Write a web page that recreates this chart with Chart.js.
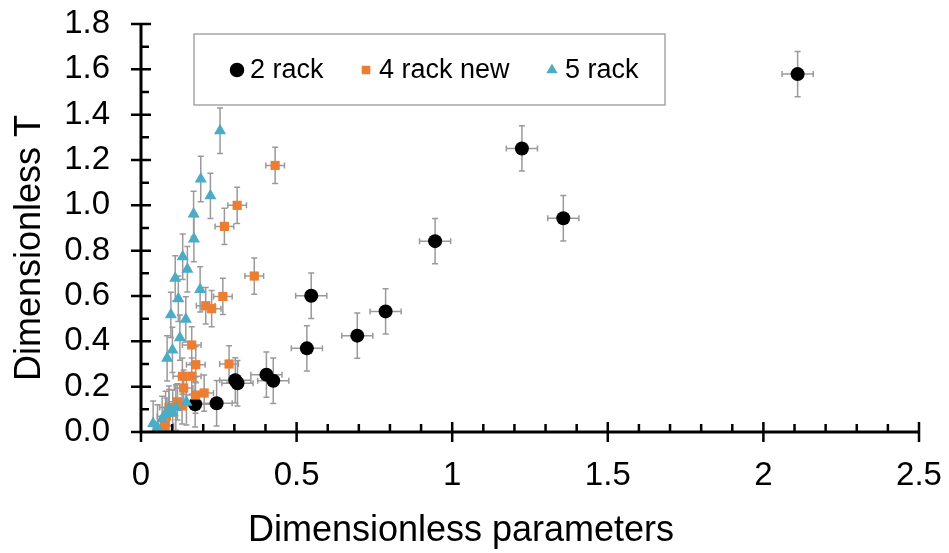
<!DOCTYPE html>
<html>
<head>
<meta charset="utf-8">
<script src="https://cdn.jsdelivr.net/npm/chart.js@4.4.1/dist/chart.umd.min.js"></script>
<style>
  html, body { margin: 0; padding: 0; background: #fff; }
</style>
</head>
<body>
<canvas id="chart" width="949" height="553"></canvas>
<script>
// series names
const seriesNames = ['2 rack', '4 rack new', '5 rack'];

// 2 rack (black circles)
const rack2X = [0.174, 0.243, 0.303, 0.310, 0.403, 0.425, 0.533, 0.547, 0.695, 0.786, 0.945, 1.224, 1.357, 2.110];
const rack2Y = [0.122, 0.127, 0.228, 0.215, 0.253, 0.226, 0.369, 0.601, 0.425, 0.532, 0.842, 1.251, 0.943, 1.579];

// 4 rack new (orange squares)
const rack4X = [0.431, 0.309, 0.268, 0.364, 0.263, 0.208, 0.227, 0.163, 0.283, 0.176, 0.133, 0.163, 0.137, 0.203, 0.175, 0.117, 0.132, 0.090, 0.082, 0.075];
const rack4Y = [1.176, 1.000, 0.907, 0.688, 0.598, 0.557, 0.544, 0.384, 0.300, 0.297, 0.246, 0.246, 0.194, 0.172, 0.163, 0.133, 0.115, 0.108, 0.070, 0.028];

// 5 rack (blue triangles)
const rack5X = [0.254, 0.192, 0.223, 0.169, 0.170, 0.134, 0.149, 0.110, 0.190, 0.120, 0.096, 0.144, 0.125, 0.101, 0.084, 0.146, 0.112, 0.090, 0.102, 0.079, 0.068, 0.039, 0.053];
const rack5Y = [1.329, 1.116, 1.042, 0.962, 0.851, 0.773, 0.718, 0.678, 0.629, 0.588, 0.517, 0.497, 0.416, 0.362, 0.325, 0.131, 0.108, 0.103, 0.085, 0.080, 0.058, 0.037, 0.020];

// error bar half-widths per series [x, y]
const rack2Err = [0.05, 0.10];
const rack4Err = [0.03, 0.08];
const rack5Err = [0, 0.10];

const seriesColors = ['#000000', '#ED7D31', '#4BACC6'];
const FONT = "'Liberation Sans', Arial, sans-serif";

function toPoints(xs, ys) {
  return xs.map((x, i) => ({ x: x, y: ys[i] }));
}

const errors = [rack2Err, rack4Err, rack5Err];

const errorBars = {
  id: 'errorBars',
  beforeDatasetsDraw(chart) {
    const { ctx, scales: { x, y } } = chart;
    ctx.save();
    ctx.strokeStyle = '#9a9a9a';
    ctx.lineWidth = 1.5;
    chart.data.datasets.forEach((ds, di) => {
      const [ex, ey] = errors[di];
      ds.data.forEach(p => {
        const px = x.getPixelForValue(p.x), py = y.getPixelForValue(p.y);
        ctx.beginPath();
        if (ey) {
          const t = y.getPixelForValue(p.y + ey), b = y.getPixelForValue(Math.max(0, p.y - ey));
          ctx.moveTo(px, t); ctx.lineTo(px, b);
          ctx.moveTo(px - 3, t); ctx.lineTo(px + 3, t);
          ctx.moveTo(px - 3, b); ctx.lineTo(px + 3, b);
        }
        if (ex) {
          const l = x.getPixelForValue(p.x - ex), r = x.getPixelForValue(p.x + ex);
          ctx.moveTo(l, py); ctx.lineTo(r, py);
          ctx.moveTo(l, py - 3); ctx.lineTo(l, py + 3);
          ctx.moveTo(r, py - 3); ctx.lineTo(r, py + 3);
        }
        ctx.stroke();
      });
    });
    ctx.restore();
  }
};

const axesAndTitles = {
  id: 'axesAndTitles',
  afterDraw(chart) {
    const { ctx, chartArea: a, scales: { x, y } } = chart;
    ctx.save();
    ctx.strokeStyle = '#000';
    ctx.lineWidth = 3;
    ctx.beginPath();
    ctx.moveTo(a.left, a.top); ctx.lineTo(a.left, a.bottom + 1.5);
    ctx.moveTo(a.left - 1.5, a.bottom); ctx.lineTo(a.right, a.bottom);
    ctx.stroke();

    ctx.lineWidth = 2.5;
    ctx.beginPath();
    // x ticks: major every 0.5, minor every 0.1
    for (let i = 1; i <= 25; i++) {
      const px = x.getPixelForValue(i / 10);
      if (i % 5 === 0) { ctx.moveTo(px, a.bottom - 10); ctx.lineTo(px, a.bottom + 10); }
      else { ctx.moveTo(px, a.bottom - 8); ctx.lineTo(px, a.bottom); }
    }
    // y ticks: major every 0.2, minor every 0.1
    for (let i = 1; i <= 18; i++) {
      const py = y.getPixelForValue(i / 10);
      if (i % 2 === 0) { ctx.moveTo(a.left - 10, py); ctx.lineTo(a.left + 10, py); }
      else { ctx.moveTo(a.left, py); ctx.lineTo(a.left + 8, py); }
    }
    ctx.moveTo(a.left - 10, a.bottom); ctx.lineTo(a.left, a.bottom);
    ctx.moveTo(a.left, a.bottom); ctx.lineTo(a.left, a.bottom + 10);
    ctx.stroke();

    // axis titles
    ctx.fillStyle = '#000';
    ctx.font = '36px ' + FONT;
    ctx.textAlign = 'center';
    ctx.textBaseline = 'alphabetic';
    ctx.fillText('Dimensionless parameters', 461, 541);
    ctx.translate(40, 248);
    ctx.rotate(-Math.PI / 2);
    ctx.fillText('Dimensionless T', 0, 0);
    ctx.restore();

    // legend box
    ctx.save();
    ctx.fillStyle = '#fff';
    ctx.strokeStyle = '#a6a6a6';
    ctx.lineWidth = 1.5;
    ctx.fillRect(194, 34, 471, 71);
    ctx.strokeRect(194, 34, 471, 71);
    const items = [[237, 250], [366, 379], [552, 565]];
    chart.data.datasets.forEach((ds, i) => {
      const [mx, tx] = items[i];
      ctx.fillStyle = ds.backgroundColor;
      ctx.strokeStyle = ds.backgroundColor;
      Chart.helpers.drawPoint(ctx, { pointStyle: ds.pointStyle, radius: i === 0 ? 6.5 : 5, borderWidth: 1 }, mx, 70);
      ctx.fillStyle = '#000';
      ctx.font = '27px ' + FONT;
      ctx.textAlign = 'left';
      ctx.textBaseline = 'middle';
      ctx.fillText(ds.label, tx, 71);
    });
    ctx.restore();
  }
};

new Chart(document.getElementById('chart'), {
  type: 'scatter',
  data: {
    datasets: [
      {
        label: seriesNames[0],
        data: toPoints(rack2X, rack2Y),
        pointStyle: 'circle', pointRadius: 7, pointHoverRadius: 7,
        backgroundColor: seriesColors[0], borderColor: seriesColors[0], borderWidth: 0,
        order: 2
      },
      {
        label: seriesNames[1],
        data: toPoints(rack4X, rack4Y),
        pointStyle: 'rect', pointRadius: 6.5, pointHoverRadius: 6.5,
        backgroundColor: seriesColors[1], borderColor: seriesColors[1], borderWidth: 0,
        order: 1
      },
      {
        label: seriesNames[2],
        data: toPoints(rack5X, rack5Y),
        pointStyle: 'triangle', pointRadius: 7, pointHoverRadius: 7,
        backgroundColor: seriesColors[2], borderColor: seriesColors[2], borderWidth: 0,
        order: 0
      }
    ]
  },
  options: {
    responsive: false,
    animation: false,
    devicePixelRatio: 1,
    clip: false,
    layout: { padding: { top: 24, right: 30, left: 0, bottom: 0 } },
    scales: {
      x: {
        type: 'linear', min: 0, max: 2.5,
        grid: { display: false, drawTicks: false },
        border: { display: false },
        ticks: {
          stepSize: 0.5, padding: 24, color: '#000', font: { family: FONT, size: 33 },
          callback: v => String(v)
        },
        afterFit(s) { s.height = 121; s.paddingLeft = 0; s.paddingRight = 0; }
      },
      y: {
        type: 'linear', min: 0, max: 1.8,
        grid: { display: false, drawTicks: false },
        border: { display: false },
        ticks: {
          stepSize: 0.2, padding: 31, color: '#000', font: { family: FONT, size: 33 },
          callback: v => v.toFixed(1)
        },
        afterFit(s) { s.width = 141; s.paddingTop = 0; s.paddingBottom = 0; }
      }
    },
    plugins: {
      legend: { display: false },
      tooltip: { enabled: false }
    }
  },
  plugins: [errorBars, axesAndTitles]
});
</script>
</body>
</html>
